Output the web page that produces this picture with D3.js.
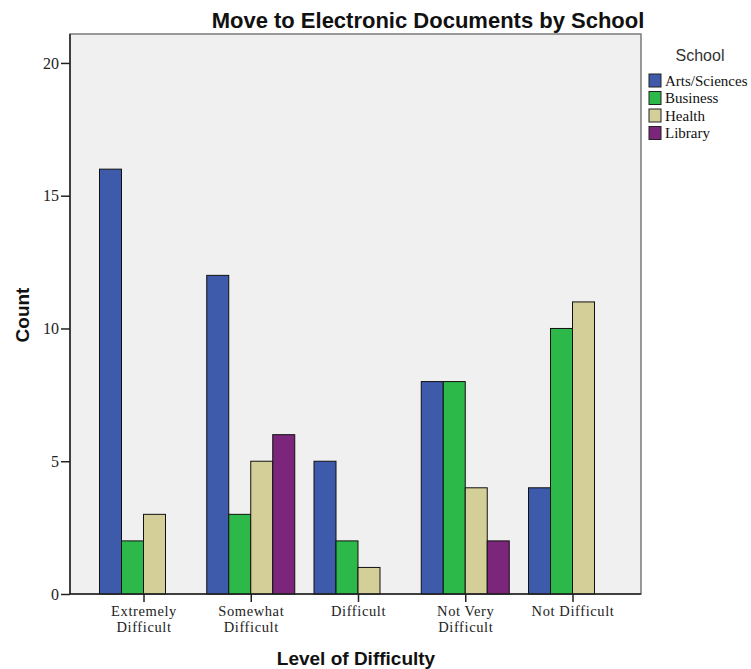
<!DOCTYPE html>
<html>
<head>
<meta charset="utf-8">
<script src="https://cdn.jsdelivr.net/npm/d3@7"></script>
<style>
  body { margin: 0; background: #fff; }
  svg { display: block; }
</style>
</head>
<body>
<div id="chart"></div>
<script>
// difficulty levels on the x axis (two-line labels)
const levels = ['Extremely Difficult', 'Somewhat Difficult', 'Difficult', 'Not Very Difficult', 'Not Difficult'];
const levelLines = [['Extremely', 'Difficult'], ['Somewhat', 'Difficult'], ['Difficult'], ['Not Very', 'Difficult'], ['Not Difficult']];

const schools = ['Arts/Sciences', 'Business', 'Health', 'Library'];
const schoolColors = ['#3d5aab', '#2db84a', '#d4cf98', '#7b267a'];

// counts per school, in the order of levels
const artsSciences = [16, 12, 5, 8, 4];
const business = [2, 3, 2, 8, 10];
const health = [3, 5, 1, 4, 11];
const library = [0, 6, 0, 2, 0];

const yTicks = [0, 5, 10, 15, 20];

const W = 751, H = 669;
const plot = { left: 70, right: 641, top: 34, bottom: 594 };

const svg = d3.select('#chart').append('svg')
  .attr('width', W)
  .attr('height', H);

// group centres sit a bit right of the frame's middle in the original
const x = d3.scalePoint()
  .domain(levels)
  .range([plot.left + 2.5, plot.right + 2.5])
  .padding(0.662);

const sub = d3.scaleBand()
  .domain(schools)
  .range([-44, 44]);

const y = d3.scaleLinear()
  .domain([0, 21.09])
  .range([plot.bottom, plot.top]);

const color = d3.scaleOrdinal().domain(schools).range(schoolColors);

// plot background
svg.append('rect')
  .attr('x', plot.left)
  .attr('y', plot.top)
  .attr('width', plot.right - plot.left)
  .attr('height', plot.bottom - plot.top)
  .attr('fill', '#f0f0f0')
  .attr('stroke', '#7a7a7a')
  .attr('stroke-width', 1.5);

// bars
const series = [artsSciences, business, health, library];
const rows = [];
levels.forEach((lv, i) => {
  schools.forEach((s, j) => {
    if (series[j][i] > 0) rows.push({ level: lv, school: s, value: series[j][i] });
  });
});

svg.append('g')
  .selectAll('rect')
  .data(rows)
  .join('rect')
  .attr('x', d => x(d.level) + sub(d.school))
  .attr('y', d => y(d.value))
  .attr('width', sub.bandwidth())
  .attr('height', d => y(0) - y(d.value))
  .attr('fill', d => color(d.school))
  .attr('stroke', '#111')
  .attr('stroke-width', 1);

// y axis
const yAxis = svg.append('g')
  .attr('transform', `translate(${plot.left},0)`)
  .call(d3.axisLeft(y).tickValues(yTicks).tickSize(9).tickSizeOuter(0).tickPadding(2));
yAxis.select('.domain').attr('stroke', '#222').attr('stroke-width', 1.5)
  .attr('d', `M0,${plot.top}V${plot.bottom}`);
yAxis.selectAll('.tick line').attr('stroke', '#222').attr('stroke-width', 1.5);
yAxis.selectAll('.tick text')
  .attr('font-family', 'Liberation Serif, serif')
  .attr('font-size', 16)
  .attr('fill', '#222');

// x axis
const xAxis = svg.append('g')
  .attr('transform', `translate(0,${plot.bottom})`)
  .call(d3.axisBottom(x).tickSize(8).tickSizeOuter(0));
xAxis.select('.domain').attr('stroke', '#222').attr('stroke-width', 1.5)
  .attr('d', `M${plot.left},0H${plot.right}`);
xAxis.selectAll('.tick line').attr('stroke', '#222').attr('stroke-width', 1.5);
xAxis.selectAll('.tick text').remove();
xAxis.selectAll('.tick').each(function(d, i) {
  levelLines[i].forEach((ln, k) => {
    d3.select(this).append('text')
      .attr('fill', '#222')
      .attr('text-anchor', 'middle')
      .attr('font-family', 'Liberation Serif, serif')
      .attr('font-size', 14.5)
      .attr('letter-spacing', 0.6)
      .attr('x', 0)
      .attr('y', 22 + k * 16)
      .text(ln);
  });
});

// titles
svg.append('text')
  .attr('x', 428)
  .attr('y', 28)
  .attr('text-anchor', 'middle')
  .attr('font-family', 'Liberation Sans, Arial, sans-serif')
  .attr('font-weight', 'bold')
  .attr('font-size', 22)
  .attr('fill', '#111')
  .text('Move to Electronic Documents by School');

svg.append('text')
  .attr('x', 356)
  .attr('y', 665)
  .attr('text-anchor', 'middle')
  .attr('font-family', 'Liberation Sans, Arial, sans-serif')
  .attr('font-weight', 'bold')
  .attr('font-size', 19)
  .attr('fill', '#111')
  .text('Level of Difficulty');

svg.append('text')
  .attr('transform', 'translate(29,315) rotate(-90)')
  .attr('text-anchor', 'middle')
  .attr('font-family', 'Liberation Sans, Arial, sans-serif')
  .attr('font-weight', 'bold')
  .attr('font-size', 19)
  .attr('fill', '#111')
  .text('Count');

// legend
const legend = svg.append('g').attr('transform', 'translate(649,0)');
legend.append('text')
  .attr('x', 51)
  .attr('y', 61)
  .attr('text-anchor', 'middle')
  .attr('font-family', 'Liberation Sans, Arial, sans-serif')
  .attr('font-size', 16)
  .attr('fill', '#333')
  .text('School');

const item = legend.selectAll('g.item')
  .data(schools)
  .join('g')
  .attr('class', 'item')
  .attr('transform', (d, i) => `translate(0,${74 + i * 17.5})`);
item.append('rect')
  .attr('width', 12)
  .attr('height', 13)
  .attr('fill', d => color(d))
  .attr('stroke', '#222');
item.append('text')
  .attr('x', 16)
  .attr('y', 11.5)
  .attr('font-family', 'Liberation Serif, serif')
  .attr('font-size', 15)
  .attr('fill', '#111')
  .text(d => d);
</script>
</body>
</html>
